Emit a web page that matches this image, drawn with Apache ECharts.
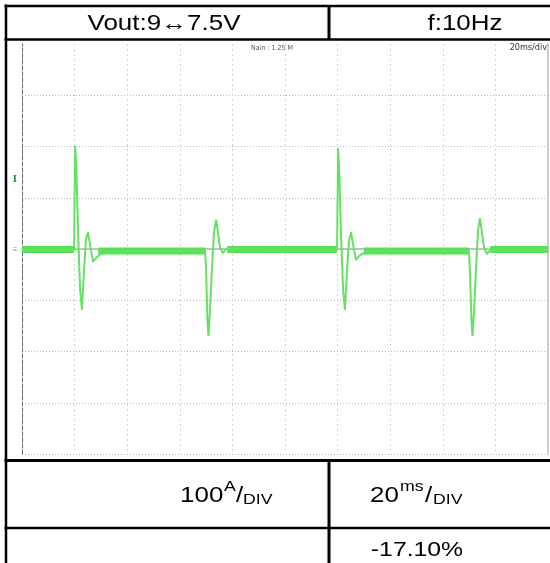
<!DOCTYPE html>
<html><head><meta charset="utf-8">
<script src="https://cdn.jsdelivr.net/npm/echarts@6/dist/echarts.min.js"></script>
<style>html,body{margin:0;padding:0;background:#fff}#c{width:550px;height:563px}</style>
</head><body><div id="c"></div>
<script>
// Time axis in ms (20 ms/div, 10 divisions), current in A (100 A/div, 8 divisions)
const timeMs = [0, 19.8, 20.2, 20.7, 21.3, 22.1, 22.8, 23.6, 24.3, 25.1, 25.9, 27.0, 28.1, 29.7, 33.5, 45, 60, 69.6,
  70.0, 70.5, 70.9, 71.5, 72.2, 73.0, 73.8, 74.5, 75.3, 76.4, 77.6, 81, 95, 110, 119.8,
  120.2, 120.7, 121.3, 122.1, 122.8, 123.6, 124.3, 125.1, 125.9, 127.0, 128.1, 130.4, 145, 160, 169.9,
  170.3, 170.9, 171.3, 171.9, 172.6, 173.4, 174.1, 174.9, 175.7, 176.8, 178.0, 190, 200];
const currentA = [-2, -2, 201, 154, 37, -80, -119, -41, 18, 33, 8, -25, -18, -10, -6, -4, -4, -3,
  -41, -139, -170, -119, -41, 33, 57, 33, 2, -8, 0, 0, -1, -1, -1,
  197, 144, 27, -80, -119, -41, 14, 33, 8, -21, -14, -6, -4, -4, -3,
  -41, -139, -170, -119, -41, 37, 60, 33, 2, -10, -2, -1, -1];
// noisy flat segments of the trace (start ms, end ms, level A)
const plateauStart = [0, 29, 78, 130, 178];
const plateauEnd = [19.8, 69.6, 119.8, 169.9, 200];
const plateauLevel = [-1, -4, -1, -4, -1];

const traceData = timeMs.map((t, i) => [t, currentA[i]]);
const bandData = [];
plateauStart.forEach((s, i) => {
  bandData.push([s, plateauLevel[i]], [plateauEnd[i], plateauLevel[i]], [plateauEnd[i], '-']);
});

const chart = echarts.init(document.getElementById('c'), null, {renderer: 'canvas'});
const FONT = '"Liberation Sans", Arial, Helvetica, sans-serif';
const SX = 1.18;
function txt(x, y, text, size, align, extra) {
  return Object.assign({
    type: 'text', x: x, y: y, scaleX: SX, z: 100,
    style: {text: text, x: 0, y: 0, fontSize: size, fontFamily: FONT, fill: '#000',
      align: align || 'center', verticalAlign: 'middle'}
  }, extra || {});
}
function ln(x1, y1, x2, y2, w) {
  return {type: 'line', z: 100, shape: {x1, y1, x2, y2}, style: {stroke: '#000', lineWidth: w || 2.5}};
}
const graphics = [
  ln(4.5, 6, 550, 6), ln(6, 4.5, 6, 563), ln(4.5, 39.5, 550, 39.5, 2.5),
  ln(329, 6, 329, 39.5, 3), ln(4.5, 460.5, 550, 460.5, 3), ln(4.5, 528, 550, 528, 2.5),
  ln(329, 460.5, 329, 563, 3),
  txt(164, 24, 'Vout:9\u21947.5V', 22),
  txt(465, 24, 'f:10Hz', 22),
  // 100 A/DIV
  txt(180, 496, '100', 22, 'left'),
  txt(224, 487, 'A', 15, 'left'),
  txt(236, 496, '/', 22, 'left'),
  txt(243, 500, 'DIV', 15, 'left'),
  // 20 ms/DIV
  txt(370, 496, '20', 22, 'left'),
  txt(400, 487, 'ms', 15, 'left'),
  txt(425, 496, '/', 22, 'left'),
  txt(433, 500, 'DIV', 15, 'left'),
  txt(417, 550, '-17.10%', 21),
  // scope annotations
  {type: 'text', x: 272, y: 48, z: 50, style: {text: 'Nain : 1.25 M', fontSize: 7, fontFamily: '"DejaVu Sans Condensed", "Liberation Sans Narrow", sans-serif', fill: '#555', align: 'center', verticalAlign: 'middle'}},
  {type: 'text', x: 547, y: 48, z: 50, style: {text: '20ms/div', fontSize: 9, fontFamily: '"DejaVu Sans Condensed", "Liberation Sans Narrow", sans-serif', fill: '#333', align: 'right', verticalAlign: 'middle'}},
  {type: 'text', x: 15, y: 179, z: 50, style: {text: 'I', fontSize: 11, fontWeight: 'bold', fontFamily: 'serif', fill: '#3b8a3b', align: 'center', verticalAlign: 'middle'}},
  {type: 'text', x: 15, y: 250, z: 50, style: {text: '\u2261', fontSize: 8, fontFamily: FONT, fill: '#8aa88a', align: 'center', verticalAlign: 'middle'}}
];

chart.setOption({
  animation: false,
  backgroundColor: '#fff',
  grid: {left: 22, right: 2, top: 44, bottom: 109},
  xAxis: {type: 'value', min: 0, max: 200, interval: 20,
    axisLabel: {show: false}, axisTick: {show: false},
    axisLine: {show: true, lineStyle: {color: '#b0b0b0', width: 1.5}},
    splitLine: {show: true, lineStyle: {color: '#d4d4d4', type: [2, 3], width: 1}}},
  yAxis: [
    {type: 'value', min: -400, max: 400, interval: 100,
      axisLabel: {show: false}, axisTick: {show: false},
      axisLine: {show: true, lineStyle: {color: '#666', type: [4, 2], width: 1}},
      splitLine: {show: true, showMaxLine: false, lineStyle: {color: '#b8b8b8', type: [1, 2], width: 1}}},
    {type: 'value', min: -400, max: 400, interval: 100, position: 'right',
      axisLabel: {show: false}, axisTick: {show: false},
      axisLine: {show: true, lineStyle: {color: '#c0c0c0', width: 1.5}},
      splitLine: {show: false}}
  ],
  series: [
    {name: 'band', type: 'line', data: bandData, symbol: 'none', connectNulls: false,
      lineStyle: {width: 7, color: '#55e255'}, z: 3, silent: true},
    {name: 'trace', type: 'line', data: traceData, symbol: 'none',
      lineStyle: {width: 2, color: '#66e066'}, z: 4, silent: true}
  ],
  graphic: graphics
});
</script></body></html>
